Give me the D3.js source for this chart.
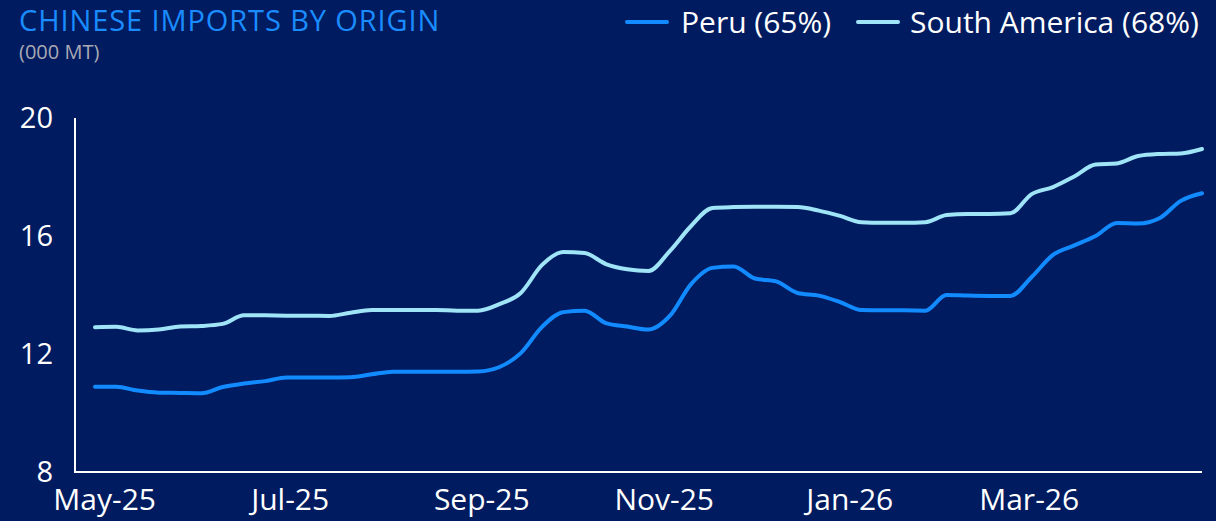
<!DOCTYPE html>
<html>
<head>
<meta charset="utf-8">
<script src="https://cdn.jsdelivr.net/npm/d3@7"></script>
<style>
  html, body { margin: 0; padding: 0; background: #001b60; }
  svg { display: block; }
  text { font-family: "Open Sans", "Noto Sans", sans-serif; }
</style>
</head>
<body>
<svg id="chart" width="1216" height="521"></svg>
<script>
const startDate = "2025-05-01";
const weeks = 53;
const peru = [10.89,10.89,10.76,10.69,10.68,10.67,10.88,11.00,11.08,11.20,11.20,11.20,11.21,11.31,11.40,11.40,11.40,11.40,11.41,11.56,12.03,12.92,13.42,13.47,13.05,12.93,12.83,13.29,14.37,14.92,14.97,14.56,14.46,14.07,13.98,13.76,13.49,13.48,13.48,13.47,14.00,13.98,13.97,13.97,14.61,15.36,15.68,16.00,16.44,16.42,16.60,17.19,17.45];
const southAmerica = [12.91,12.92,12.80,12.83,12.93,12.95,13.02,13.31,13.31,13.30,13.30,13.29,13.40,13.49,13.49,13.49,13.49,13.47,13.47,13.69,14.07,15.02,15.46,15.42,15.05,14.87,14.81,15.49,16.34,16.95,16.98,16.99,16.99,16.98,16.86,16.68,16.47,16.45,16.45,16.47,16.71,16.75,16.75,16.77,17.42,17.66,18.02,18.42,18.46,18.71,18.78,18.80,18.95];
const seriesNames = ["Peru (65%)", "South America (68%)"];
const seriesColors = ["#118bff", "#9fe4f7"];
const yTicks = [8, 12, 16, 20];
const xTickDates = ["2025-05-04", "2025-07-04", "2025-09-05", "2025-11-04", "2026-01-04", "2026-03-04"];
const xTickLabels = ["May-25", "Jul-25", "Sep-25", "Nov-25", "Jan-26", "Mar-26"];

const parse = d3.utcParse("%Y-%m-%d");
const t0 = parse(startDate);
const dates = d3.range(weeks).map(i => d3.utcDay.offset(t0, i * 7));

const svg = d3.select("#chart");
const x = d3.scaleUtc().domain([dates[0], dates[dates.length - 1]]).range([95, 1202]);
const y = d3.scaleLinear().domain([8, 20]).range([472, 118]);

// title
svg.append("text").attr("x", 19).attr("y", 31).attr("fill", "#1a8cff")
  .attr("font-size", 29).attr("letter-spacing", 0.9).text("CHINESE IMPORTS BY ORIGIN");
svg.append("text").attr("x", 19).attr("y", 59).attr("fill", "#a9a9b4")
  .attr("font-size", 20).text("(000 MT)");

// axes
svg.append("line").attr("x1", 75).attr("x2", 75).attr("y1", y(20)).attr("y2", y(8))
  .attr("stroke", "#ffffff").attr("stroke-width", 2);
svg.append("line").attr("x1", 74).attr("x2", 1202).attr("y1", y(8)).attr("y2", y(8))
  .attr("stroke", "#ffffff").attr("stroke-width", 2);

const yAxis = d3.axisLeft(y).tickValues(yTicks).tickSize(0).tickPadding(0);
const gy = svg.append("g").attr("transform", "translate(53,0)").call(yAxis);
gy.select(".domain").remove();
gy.selectAll("text").attr("fill", "#ffffff").attr("font-size", 29)
  .attr("font-family", "'Open Sans', sans-serif");

const xAxis = d3.axisBottom(x).tickValues(xTickDates.map(parse))
  .tickFormat((d, i) => xTickLabels[i]).tickSize(0).tickPadding(0);
const gx = svg.append("g").attr("transform", "translate(0,510)").call(xAxis);
gx.select(".domain").remove();
gx.selectAll("text").attr("fill", "#ffffff").attr("font-size", 30)
  .attr("font-family", "'Open Sans', sans-serif").attr("y", 0).attr("dy", 0);

// lines
const line = d3.line().x((d, i) => x(dates[i])).y(d => y(d)).curve(d3.curveMonotoneX);
[peru, southAmerica].forEach((s, k) => {
  svg.append("path").datum(s).attr("d", line).attr("fill", "none")
    .attr("stroke", seriesColors[k]).attr("stroke-width", 4)
    .attr("stroke-linecap", "round").attr("stroke-linejoin", "round");
});

// legend
const legX = [627, 858];
const legTextX = [681, 910];
seriesNames.forEach((n, k) => {
  svg.append("line").attr("x1", legX[k]).attr("x2", legX[k] + 40).attr("y1", 22).attr("y2", 22)
    .attr("stroke", seriesColors[k]).attr("stroke-width", 4).attr("stroke-linecap", "round");
  svg.append("text").attr("x", legTextX[k]).attr("y", 33).attr("fill", "#ffffff")
    .attr("font-size", 30).text(n);
});
</script>
</body>
</html>
